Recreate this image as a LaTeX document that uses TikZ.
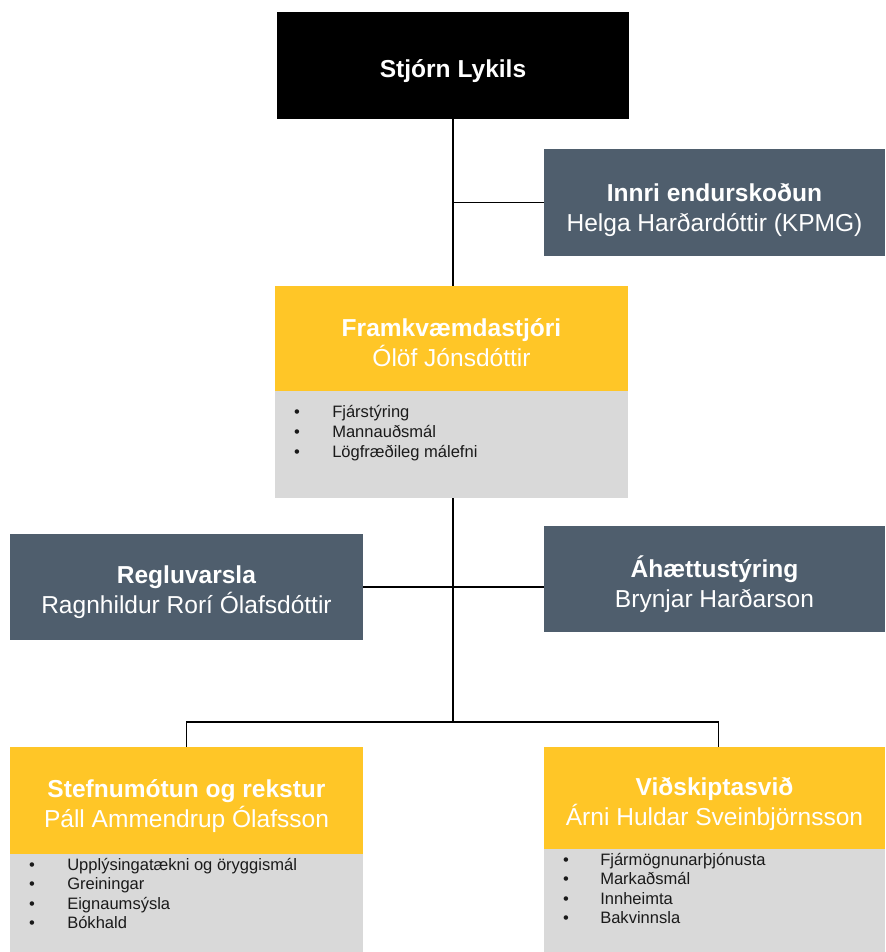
\documentclass[tikz,border=0pt]{standalone}
\usepackage{fontspec}
\setmainfont{Liberation Sans}
\definecolor{ygold}{HTML}{FFC627}
\definecolor{slate}{HTML}{4F5E6D}
\definecolor{lgray}{HTML}{D9D9D9}
\definecolor{txtdark}{HTML}{1A1A1A}
\begin{document}
\begin{tikzpicture}[x=0.75pt,y=-0.75pt,
  box/.style={rectangle,inner sep=0pt,draw=none},
  btext/.style={inner sep=0pt,text=white,align=center,
    font=\fontsize{18.4pt}{22.5pt}\selectfont},
  blackbox/.style={box,fill=black},
  slatebox/.style={box,fill=slate},
  yellowbox/.style={box,fill=ygold},
  graybox/.style={box,fill=lgray},
  bul/.style={inner sep=0pt,anchor=base,text=txtdark,font=\fontsize{12.4pt}{15pt}\selectfont},
  item/.style={inner sep=0pt,anchor=base west,text=txtdark,font=\fontsize{12.4pt}{15pt}\selectfont},
  conn/.style={draw=black,line width=1.3pt}]
\useasboundingbox (0,0) rectangle (885,952);

% boxes
\node[blackbox,minimum width=352*0.75pt,minimum height=107*0.75pt] (top) at (453,65.5) {};
\node[slatebox,minimum width=341*0.75pt,minimum height=107*0.75pt] (innri) at (714.5,202.5) {};
\node[yellowbox,minimum width=353*0.75pt,minimum height=105*0.75pt] (fram) at (451.5,338.5) {};
\node[graybox,minimum width=353*0.75pt,minimum height=107*0.75pt] (framb) at (451.5,444.5) {};
\node[slatebox,minimum width=353*0.75pt,minimum height=106*0.75pt] (regl) at (186.5,587) {};
\node[slatebox,minimum width=341*0.75pt,minimum height=106*0.75pt] (aha) at (714.5,579) {};
\node[yellowbox,minimum width=353*0.75pt,minimum height=107*0.75pt] (stef) at (186.5,800.5) {};
\node[graybox,minimum width=353*0.75pt,minimum height=98*0.75pt] (stefb) at (186.5,903) {};
\node[yellowbox,minimum width=341*0.75pt,minimum height=102*0.75pt] (vid) at (714.5,798) {};
\node[graybox,minimum width=341*0.75pt,minimum height=103*0.75pt] (vidb) at (714.5,900.5) {};

% box texts
\node[btext] (topt) at ([yshift=-4.5pt]top.center) {\bfseries Stjórn Lykils};
\node[btext] (innrit) at ([yshift=-5.5pt]innri.center) {\textbf{Innri endurskoðun}\\Helga Harðardóttir (KPMG)};
\node[btext] (framt) at ([yshift=-3pt]fram.center) {\textbf{Framkvæmdastjóri}\\Ólöf Jónsdóttir};
\node[btext] (reglt) at ([yshift=-3.5pt]regl.center) {\textbf{Regluvarsla}\\Ragnhildur Rorí Ólafsdóttir};
\node[btext] (ahat) at ([yshift=-3.8pt]aha.center) {\textbf{Áhættustýring}\\Brynjar Harðarson};
\node[btext] (steft) at ([yshift=-3.8pt]stef.center) {\textbf{Stefnumótun og rekstur}\\Páll Ammendrup Ólafsson};
\node[btext] (vidt) at ([yshift=-4.5pt]vid.center) {\textbf{Viðskiptasvið}\\Árni Huldar Sveinbjörnsson};

% bullet lists
\foreach \t [count=\i] in {Fjárstýring,Mannauðsmál,Lögfræðileg málefni}{
  \node[bul] (fb\i) at (297,{397+20*\i}) {•};
  \node[item] (fi\i) at (332,{397+20*\i}) {\t};
}
\foreach \t [count=\i] in {Upplýsingatækni og öryggismál,Greiningar,Eignaumsýsla,Bókhald}{
  \node[bul] (sb\i) at (32,{850.5+19.5*\i}) {•};
  \node[item] (si\i) at (67,{850.5+19.5*\i}) {\t};
}
\foreach \t [count=\i] in {Fjármögnunarþjónusta,Markaðsmál,Innheimta,Bakvinnsla}{
  \node[bul] (vb\i) at (566,{845.5+19.5*\i}) {•};
  \node[item] (vi\i) at (600,{845.5+19.5*\i}) {\t};
}

% connectors
\coordinate (bus) at (453,722);
\draw[conn] (top.south) -- (top.south |- fram.north);
\draw[conn] (innri.west) -- (innri.west -| top.south);
\draw[conn] (framb.south -| top.south) -- (bus);
\draw[conn] (regl.east) -- (regl.east -| bus);
\draw[conn] (aha.west |- regl.east) -- (regl.east -| bus);
\draw[conn] (stef.north) |- (bus) -| ([xshift=3pt]vid.north);
\end{tikzpicture}
\end{document}
